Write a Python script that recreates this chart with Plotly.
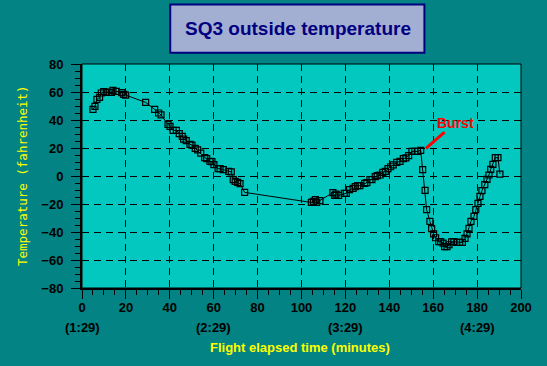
import plotly.graph_objects as go

# Flight elapsed time (minutes) and outside temperature (F)
time_min = [5.0, 5.9, 6.8, 8.0, 8.8, 9.9, 11.1, 12.3, 13.4, 14.1, 15.6, 18.1, 19.0, 19.9,
            29.0, 33.1, 34.9, 36.0, 39.2, 40.1, 41.5, 43.0, 44.3, 45.7, 46.3, 47.5, 49.2,
            50.1, 51.6, 52.7, 54.1, 55.9, 56.8, 58.3, 59.2, 60.1, 62.0, 62.9, 64.4, 66.8,
            68.0, 68.9, 69.8, 70.9, 72.0, 74.1, 104.5, 105.4, 106.3, 106.9, 108.4, 114.3,
            115.1, 115.7, 116.9, 119.5, 120.4, 121.9, 123.5, 124.5, 125.6, 126.6, 128.8,
            129.8, 131.2, 132.1, 133.6, 134.5, 135.8, 137.0, 138.2, 139.4, 140.6, 141.8,
            143.4, 144.9, 146.4, 147.6, 148.8, 150.3, 151.6, 152.8, 154.3, 155.2, 156.3,
            157.0, 158.5, 159.3, 160.2, 161.1, 162.5, 163.4, 164.5, 165.2, 166.3, 167.2,
            168.4, 169.4, 170.7, 172.1, 173.3, 174.5, 175.4, 176.3, 177.2, 178.6, 179.4,
            180.4, 181.3, 182.2, 183.5, 184.5, 185.4, 186.2, 187.2, 188.3, 189.5, 190.4]
temp_f = [47.6, 49.7, 54.7, 56.2, 59.3, 60.2, 59.7, 59.7, 59.7, 61.1, 60.4, 59.5, 58.3, 57.8,
          52.6, 47.6, 45.0, 43.6, 36.9, 35.4, 32.6, 32.6, 30.2, 28.3, 26.4, 25.2, 22.6,
          22.1, 19.7, 18.6, 16.4, 13.1, 12.4, 10.4, 10.2, 8.1, 5.2, 5.2, 4.5, 3.3,
          2.9, -2.6, -3.9, -4.6, -5.5, -11.7, -18.9, -18.1, -16.9, -18.9, -17.6, -11.9,
          -13.8, -12.9, -13.8, -12.4, -12.4, -9.8, -8.9, -7.6, -6.9, -6.9, -5.3,
          -4.8, -2.5, -2.6, -0.5, 0.2, 0.7, 2.6, 3.3, 5.2, 6.6, 7.9,
          9.7, 10.4, 12.4, 12.9, 14.5, 17.6, 17.6, 17.6, 18.3, 4.5, -10.3,
          -24.0, -32.4, -37.6, -41.4, -44.1, -46.9, -46.9, -47.9, -50.5, -50.5, -49.1,
          -47.1, -46.9, -47.4, -47.4, -47.4, -44.6, -41.4, -37.4, -32.4, -28.8, -24.0,
          -19.6, -14.6, -10.5, -6.2, -2.4, 0.7, 4.7, 8.3, 13.1, 13.1, 1.4]

clock_ticks_x = [0, 60, 120, 180]
clock_labels = ["(1:29)", "(2:29)", "(3:29)", "(4:29)"]

burst_point = (156.7, 19.7)

PAPER = "#038383"
PLOT = "#02C8C0"
NAVY = "#000080"
TICKFONT = dict(family="Liberation Sans, Arial", size=13, color="black", weight="bold")

fig = go.Figure()
fig.add_trace(go.Scatter(
    x=time_min, y=temp_f, mode="lines+markers",
    line=dict(color="black", width=1),
    marker=dict(symbol="square-open", size=6, color="black", line=dict(width=1.2, color="black")),
    showlegend=False, hoverinfo="x+y"))

fig.update_layout(
    width=547, height=366,
    margin=dict(l=82, r=26, t=64, b=78),
    paper_bgcolor=PAPER, plot_bgcolor=PLOT,
    xaxis=dict(range=[0, 200], tick0=0, dtick=20, ticks="outside", ticklen=9, tickwidth=1,
               tickcolor="black", showline=True, linewidth=2, linecolor="black",
               showgrid=True, gridcolor="black", gridwidth=1, griddash="7px,5px",
               zeroline=False, tickfont=TICKFONT, ticklabelstandoff=-3,
               minor=dict(dtick=5, ticks="outside", ticklen=5, tickcolor="black", showgrid=False)),
    yaxis=dict(range=[-80, 80], tick0=-80, dtick=20, ticks="outside", ticklen=9, tickwidth=1,
               tickcolor="black", showline=True, linewidth=2, linecolor="black",
               showgrid=True, gridcolor="black", gridwidth=1, griddash="7px,5px",
               zeroline=False, tickfont=TICKFONT, ticklabelstandoff=5,
               minor=dict(dtick=5, ticks="outside", ticklen=5, tickcolor="black", showgrid=False)),
)

# plot frame on top/right
fig.add_shape(type="rect", xref="paper", yref="paper", x0=0, x1=1, y0=0, y1=1,
              line=dict(color="black", width=1), layer="above")

# title box
fig.add_shape(type="rect", xref="paper", yref="paper", x0=0.201, x1=0.780, y0=1.0504, y1=1.2656,
              fillcolor="#A3AED3", line=dict(color=NAVY, width=2))
fig.add_annotation(text="SQ3 outside temperature", xref="paper", yref="paper",
                   x=(297.6 - 82) / 439, y=(288 - 28.5) / 224, xanchor="center", yanchor="middle",
                   showarrow=False,
                   font=dict(family="Liberation Sans, Arial", size=19, color=NAVY, weight="bold"))

# axis titles
fig.add_annotation(text="Temperature (fahrenheit)", xref="paper", yref="paper",
                   x=(22 - 82) / 439, y=0.5, textangle=-90, xanchor="center", yanchor="middle",
                   showarrow=False,
                   font=dict(family="DejaVu Sans Mono, Liberation Mono", size=12.5, color="#FFFF00"))
fig.add_annotation(text="Flight elapsed time (minutes)", xref="paper", yref="paper",
                   x=(300 - 82) / 439, y=(288 - 347) / 224, xanchor="center", yanchor="middle",
                   showarrow=False,
                   font=dict(family="Liberation Sans, Arial", size=13, color="#FFFF00", weight="bold"))

# clock-time labels
for xv, lab in zip(clock_ticks_x, clock_labels):
    fig.add_annotation(text=lab, xref="x", yref="paper", x=xv, y=(288 - 327) / 224,
                       xanchor="center", yanchor="middle", showarrow=False, font=TICKFONT)

# burst annotation
fig.add_annotation(text="Burst", x=burst_point[0], y=burst_point[1], xref="x", yref="y",
                   ax=29.5, ay=-25.7, showarrow=True, arrowhead=0, arrowwidth=3,
                   arrowcolor="#FF0000", standoff=0,
                   font=dict(family="Liberation Sans, Arial", size=14, color="#FF0000", weight="bold"))

fig.write_html("out.html", config={"displayModeBar": False},
               post_script="document.body.style.margin='0';document.body.style.padding='0';"
                           "document.body.style.background='#038383';")
